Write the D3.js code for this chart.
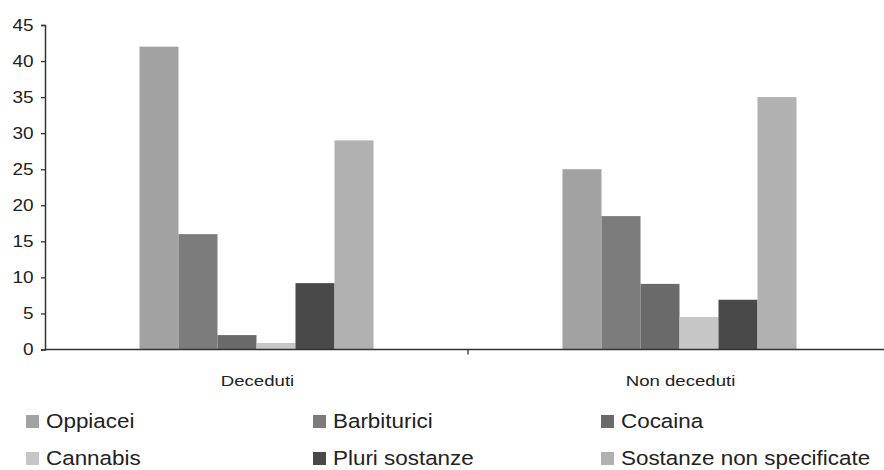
<!DOCTYPE html>
<html>
<head>
<meta charset="utf-8">
<script src="https://cdn.jsdelivr.net/npm/d3@7"></script>
<style>
  html, body { margin: 0; padding: 0; background: #fff; }
  svg { display: block; }
  text { font-family: "Liberation Sans", Arial, sans-serif; fill: #222; }
</style>
</head>
<body>
<svg id="chart" width="884" height="470"></svg>
<script>
// ---- data ----
const categories = ["Deceduti", "Non deceduti"];
const series = ["Oppiacei", "Barbiturici", "Cocaina", "Cannabis", "Pluri sostanze", "Sostanze non specificate"];
const deceduti    = [42, 16, 2, 0.9, 9.2, 29];
const nonDeceduti = [25, 18.5, 9.1, 4.5, 6.9, 35];
const yTicks = [0, 5, 10, 15, 20, 25, 30, 35, 40, 45];
const colors = ["#a2a2a2", "#7c7c7c", "#6a6a6a", "#c6c6c6", "#494949", "#b1b1b1"];

const values = [deceduti, nonDeceduti];
const SX = 1.2; // horizontal stretch of the reference text

const svg = d3.select("#chart");
const margin = { left: 45, top: 25, bottom: 349.5, right: 891 };

const y = d3.scaleLinear().domain([0, 45]).range([margin.bottom, margin.top]);
const x0 = d3.scaleBand().domain(categories).range([margin.left, margin.right]).padding(0);
const groupW = 234;
const inset = (x0.bandwidth() - groupW) / 2;
const x1 = d3.scaleBand().domain(series).range([inset, inset + groupW]).padding(0);

// bars
const groups = svg.append("g").selectAll("g")
  .data(categories)
  .join("g")
  .attr("transform", d => `translate(${x0(d)},0)`);

groups.selectAll("rect")
  .data((c, i) => series.map((s, j) => ({ s, v: values[i][j], j })))
  .join("rect")
  .attr("x", d => x1(d.s))
  .attr("width", x1.bandwidth())
  .attr("y", d => y(d.v))
  .attr("height", d => y(0) - y(d.v))
  .attr("fill", d => colors[d.j]);

// y axis
const yAxis = svg.append("g")
  .attr("transform", `translate(${margin.left},0)`)
  .call(d3.axisLeft(y).tickValues(yTicks).tickSize(4).tickPadding(6).tickFormat(d3.format("d")));
yAxis.select(".domain").attr("stroke", "#333").attr("stroke-width", 1.5);
yAxis.selectAll(".tick line").attr("stroke", "#333").attr("stroke-width", 1.3);
yAxis.selectAll(".tick text")
  .style("font-size", "16.5px")
  .style("font-family", "'Liberation Sans', Arial, sans-serif")
  .attr("fill", "#222")
  .attr("transform", `scale(1.15,1)`);

// x axis line and boundary ticks
const xAxis = svg.append("g").attr("transform", `translate(0,${y(0)})`);
xAxis.append("line")
  .attr("x1", margin.left).attr("x2", margin.right)
  .attr("stroke", "#333").attr("stroke-width", 1.5);
xAxis.selectAll("line.bt")
  .data(categories.slice(1))
  .join("line")
  .attr("class", "bt")
  .attr("x1", d => x0(d)).attr("x2", d => x0(d))
  .attr("y1", 0).attr("y2", 5)
  .attr("stroke", "#333").attr("stroke-width", 1.3);

// category labels
svg.append("g").selectAll("text")
  .data(categories)
  .join("text")
  .attr("transform", d => `translate(${x0(d) + x0.bandwidth() / 2 + 1},${y(0) + 36}) scale(${SX},1)`)
  .attr("text-anchor", "middle")
  .style("font-size", "15.5px")
  .text(d => d);

// legend
const legendCols = [26, 313, 601];
const legendRows = [428, 465];
const legend = svg.append("g").selectAll("g")
  .data(series)
  .join("g")
  .attr("transform", (d, i) => `translate(${legendCols[i % 3]},${legendRows[Math.floor(i / 3)]})`);
legend.append("rect")
  .attr("x", 0).attr("y", -13)
  .attr("width", 13).attr("height", 13)
  .attr("fill", (d, i) => colors[i]);
legend.append("text")
  .attr("transform", `translate(20,0) scale(1.15,1)`)
  .style("font-size", "19.5px")
  .text(d => d);
</script>
</body>
</html>
